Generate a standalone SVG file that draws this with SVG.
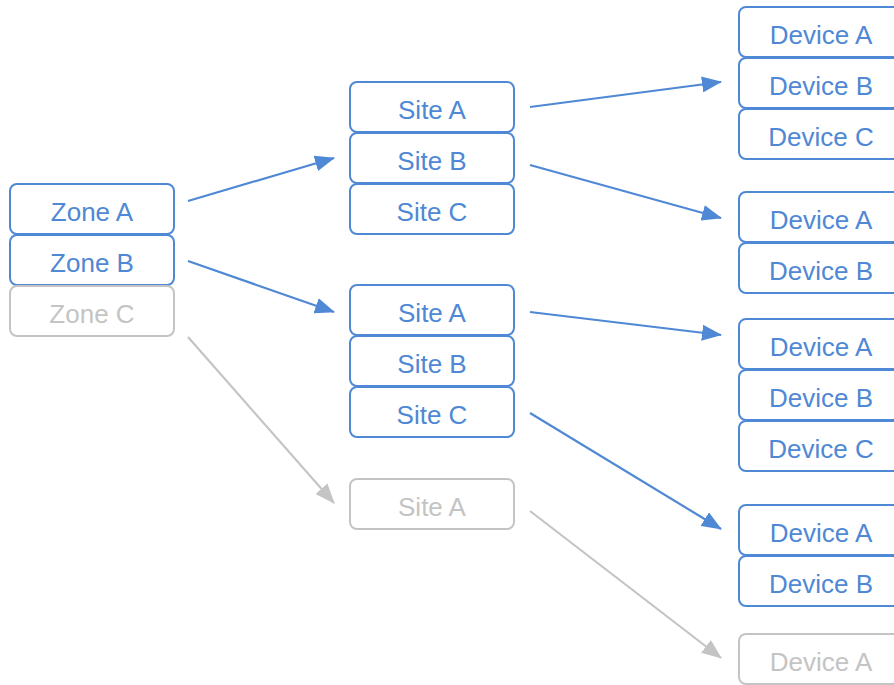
<svg xmlns="http://www.w3.org/2000/svg" width="894" height="685" viewBox="0 0 894 685" font-family="Liberation Sans, sans-serif">
  <style>
    .box rect { fill: #ffffff; stroke-width: 2; }
    .box text { font-family: 'Liberation Sans', sans-serif; font-size: 26px; text-anchor: middle; }
    .on rect { stroke: #4f88d4; }
    .on text { fill: #4f88d4; }
    .off rect { stroke: #c4c4c4; }
    .off text { fill: #c4c4c4; }
    .link { fill: none; stroke-width: 2.2; }
    .link.on { stroke: #4f88d4; }
    .link.off { stroke: #c4c4c4; }
  </style>
  <defs>
    <marker id="arrowOn" viewBox="0 0 20 16" refX="19" refY="8" markerWidth="20" markerHeight="16" markerUnits="userSpaceOnUse" orient="auto">
      <path d="M0,0 L20,8 L0,16 Z" fill="#4f88d4"/>
    </marker>
    <marker id="arrowOff" viewBox="0 0 20 16" refX="19" refY="8" markerWidth="20" markerHeight="16" markerUnits="userSpaceOnUse" orient="auto">
      <path d="M0,0 L20,8 L0,16 Z" fill="#c4c4c4"/>
    </marker>
  </defs>

  <!-- zones -->
  <g id="zone-a" class="box on"><rect x="10" y="184" width="164" height="50" rx="7"/><text x="92" y="221">Zone A</text></g>
  <g id="zone-b" class="box on"><rect x="10" y="235" width="164" height="50" rx="7"/><text x="92" y="272">Zone B</text></g>
  <g id="zone-c" class="box off"><rect x="10" y="286" width="164" height="50" rx="7"/><text x="92" y="323">Zone C</text></g>

  <!-- sites of zone A -->
  <g id="site-1a" class="box on"><rect x="350" y="82" width="164" height="50" rx="7"/><text x="432" y="119">Site A</text></g>
  <g id="site-1b" class="box on"><rect x="350" y="133" width="164" height="50" rx="7"/><text x="432" y="170">Site B</text></g>
  <g id="site-1c" class="box on"><rect x="350" y="184" width="164" height="50" rx="7"/><text x="432" y="221">Site C</text></g>

  <!-- sites of zone B -->
  <g id="site-2a" class="box on"><rect x="350" y="285" width="164" height="50" rx="7"/><text x="432" y="322">Site A</text></g>
  <g id="site-2b" class="box on"><rect x="350" y="336" width="164" height="50" rx="7"/><text x="432" y="373">Site B</text></g>
  <g id="site-2c" class="box on"><rect x="350" y="387" width="164" height="50" rx="7"/><text x="432" y="424">Site C</text></g>

  <!-- site of zone C -->
  <g id="site-3a" class="box off"><rect x="350" y="479" width="164" height="50" rx="7"/><text x="432" y="516">Site A</text></g>

  <!-- devices -->
  <g id="dev-1a" class="box on"><rect x="739" y="7" width="164" height="50" rx="7"/><text x="821" y="44">Device A</text></g>
  <g id="dev-1b" class="box on"><rect x="739" y="58" width="164" height="50" rx="7"/><text x="821" y="95">Device B</text></g>
  <g id="dev-1c" class="box on"><rect x="739" y="109" width="164" height="50" rx="7"/><text x="821" y="146">Device C</text></g>

  <g id="dev-2a" class="box on"><rect x="739" y="192" width="164" height="50" rx="7"/><text x="821" y="229">Device A</text></g>
  <g id="dev-2b" class="box on"><rect x="739" y="243" width="164" height="50" rx="7"/><text x="821" y="280">Device B</text></g>

  <g id="dev-3a" class="box on"><rect x="739" y="319" width="164" height="50" rx="7"/><text x="821" y="356">Device A</text></g>
  <g id="dev-3b" class="box on"><rect x="739" y="370" width="164" height="50" rx="7"/><text x="821" y="407">Device B</text></g>
  <g id="dev-3c" class="box on"><rect x="739" y="421" width="164" height="50" rx="7"/><text x="821" y="458">Device C</text></g>

  <g id="dev-4a" class="box on"><rect x="739" y="505" width="164" height="50" rx="7"/><text x="821" y="542">Device A</text></g>
  <g id="dev-4b" class="box on"><rect x="739" y="556" width="164" height="50" rx="7"/><text x="821" y="593">Device B</text></g>

  <g id="dev-5a" class="box off"><rect x="739" y="634" width="164" height="50" rx="7"/><text x="821" y="671">Device A</text></g>

  <!-- connectors -->
  <g id="connectors">
    <line class="link on" x1="188" y1="201" x2="334" y2="158" marker-end="url(#arrowOn)"/>
    <line class="link on" x1="188" y1="261" x2="334" y2="312" marker-end="url(#arrowOn)"/>
    <line class="link off" x1="188" y1="337" x2="334" y2="503" marker-end="url(#arrowOff)"/>
    <line class="link on" x1="530" y1="107" x2="721" y2="82" marker-end="url(#arrowOn)"/>
    <line class="link on" x1="530" y1="165" x2="721" y2="218" marker-end="url(#arrowOn)"/>
    <line class="link on" x1="530" y1="312" x2="721" y2="335" marker-end="url(#arrowOn)"/>
    <line class="link on" x1="530" y1="413" x2="721" y2="529" marker-end="url(#arrowOn)"/>
    <line class="link off" x1="530" y1="511" x2="721" y2="658" marker-end="url(#arrowOff)"/>
  </g>
</svg>
